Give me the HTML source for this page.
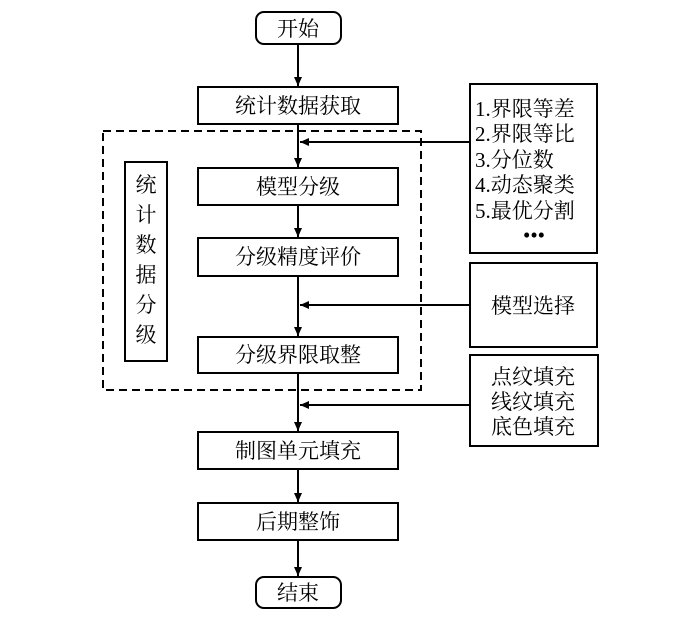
<!DOCTYPE html>
<html><head><meta charset="utf-8"><style>
body{margin:0;background:#fff;}
svg text{font-family:"Liberation Serif","Noto Serif CJK SC","Noto Sans CJK SC",serif;font-size:21px;fill:#000;}
</style></head><body>
<svg width="700" height="621" viewBox="0 0 700 621" xmlns="http://www.w3.org/2000/svg">
<defs><marker id="a" markerWidth="10" markerHeight="10" refX="9" refY="5" orient="auto" markerUnits="userSpaceOnUse"><path d="M0,1 L9,5 L0,9 Z" fill="#000"/></marker></defs>
<g fill="none" stroke="#000" stroke-width="2">
<rect x="256" y="12" width="85" height="32" rx="8"/>
<rect x="198" y="87" width="200" height="37"/>
<rect x="103" y="131" width="318" height="259" stroke-dasharray="8,5"/>
<rect x="198" y="168" width="200" height="37"/>
<rect x="198" y="238" width="200" height="38"/>
<rect x="198" y="337" width="200" height="36"/>
<rect x="125" y="162" width="42" height="199"/>
<rect x="470" y="84" width="127" height="169"/>
<rect x="470" y="263" width="127" height="84"/>
<rect x="470" y="355" width="128" height="91"/>
<rect x="198" y="432" width="200" height="37"/>
<rect x="198" y="503" width="200" height="37"/>
<rect x="256" y="577" width="85" height="31" rx="8"/>
<line x1="298" y1="44" x2="298" y2="86" marker-end="url(#a)"/>
<line x1="298" y1="124" x2="298" y2="167" marker-end="url(#a)"/>
<line x1="298" y1="205" x2="298" y2="237" marker-end="url(#a)"/>
<line x1="298" y1="276" x2="298" y2="336" marker-end="url(#a)"/>
<line x1="298" y1="373" x2="298" y2="431" marker-end="url(#a)"/>
<line x1="298" y1="469" x2="298" y2="502" marker-end="url(#a)"/>
<line x1="298" y1="540" x2="298" y2="576" marker-end="url(#a)"/>
<line x1="470" y1="142" x2="300" y2="142" marker-end="url(#a)"/>
<line x1="470" y1="305" x2="300" y2="305" marker-end="url(#a)"/>
<line x1="470" y1="405" x2="300" y2="405" marker-end="url(#a)"/>
</g>
<g text-anchor="middle">
<text x="298" y="36">开始</text>
<text x="298" y="113">统计数据获取</text>
<text x="298" y="194">模型分级</text>
<text x="298" y="264">分级精度评价</text>
<text x="298" y="362">分级界限取整</text>
<text x="298" y="458">制图单元填充</text>
<text x="298" y="529">后期整饰</text>
<text x="298" y="600">结束</text>
<text x="146" y="192">统</text>
<text x="146" y="222">计</text>
<text x="146" y="252">数</text>
<text x="146" y="282">据</text>
<text x="146" y="312">分</text>
<text x="146" y="342">级</text>
<text x="533" y="313">模型选择</text>
<text x="533" y="384">点纹填充</text>
<text x="533" y="409">线纹填充</text>
<text x="533" y="434">底色填充</text>
<text x="534" y="242">•••</text>
</g>
<g>
<text x="475" y="116">1.界限等差</text>
<text x="475" y="141">2.界限等比</text>
<text x="475" y="167">3.分位数</text>
<text x="475" y="192">4.动态聚类</text>
<text x="475" y="218">5.最优分割</text>
</g>
</svg>
</body></html>
